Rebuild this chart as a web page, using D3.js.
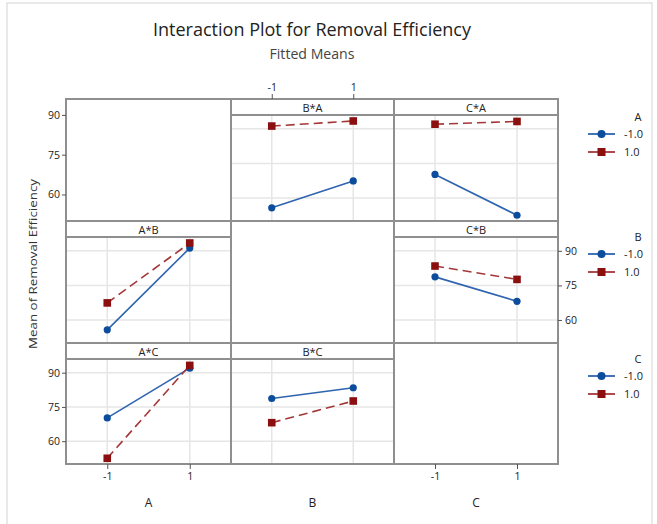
<!DOCTYPE html>
<html>
<head>
<meta charset="utf-8">
<script src="https://cdn.jsdelivr.net/npm/d3@7"></script>
<style>
body { margin: 0; background: #fff; }
text { font-family: "Open Sans", "DejaVu Sans", sans-serif; fill: #222; }
</style>
</head>
<body>
<svg width="657" height="524"></svg>
<script>
var factors = ["A", "B", "C"];
var levels = [-1, 1];
var tickLabels = ["-1", "1"];
var legendLabels = ["-1.0", "1.0"];
var yTicks = [60, 75, 90];

// fitted cell means, [level of first factor][level of second factor]
var meansAB = [[55.7, 67.4], [91.2, 93.4]];
var meansAC = [[70.2, 52.5], [92.0, 93.2]];
var meansBC = [[78.7, 68.1], [83.4, 77.6]];

var tables = { "AB": meansAB, "AC": meansAC, "BC": meansBC };

function cellMean(f1, i1, f2, i2) {
    if (f1 < f2) return tables[f1 + f2][i1][i2];
    return tables[f2 + f1][i2][i1];
}

var traceStyle = [
    { line: "#2f64ae", fill: "#0b4c9c", dash: null },
    { line: "#a33838", fill: "#8b0f0f", dash: "9,5" }
];

var svg = d3.select("svg");
var colEdges = [66, 231, 394, 558];
var rowEdges = [99, 221, 343, 464];
var stripH = 16;
var yDomain = [50, 96];
var borderCol = "#8f8f8f";

// outer frame
svg.append("rect")
    .attr("x", 7).attr("y", 3).attr("width", 645).attr("height", 530)
    .attr("fill", "none").attr("stroke", "#d4d4d4");

svg.append("text")
    .attr("x", 312).attr("y", 36)
    .attr("text-anchor", "middle")
    .attr("font-size", 19)
    .attr("textLength", 318).attr("lengthAdjust", "spacingAndGlyphs")
    .text("Interaction Plot for Removal Efficiency");

svg.append("text")
    .attr("x", 312).attr("y", 59)
    .attr("text-anchor", "middle")
    .attr("font-size", 14)
    .attr("textLength", 85).attr("lengthAdjust", "spacingAndGlyphs")
    .style("fill", "#444")
    .text("Fitted Means");

function xScale(c) {
    return d3.scaleLinear().domain([-2, 2]).range([colEdges[c], colEdges[c + 1]]);
}
function yScale(r) {
    return d3.scaleLinear().domain(yDomain).range([rowEdges[r + 1], rowEdges[r] + stripH]);
}

for (var r = 0; r < 3; r++) {
    for (var c = 0; c < 3; c++) {
        var x0 = colEdges[c], x1 = colEdges[c + 1], y0 = rowEdges[r], y1 = rowEdges[r + 1];
        var g = svg.append("g");
        if (r == c) {
            g.append("rect").attr("x", x0).attr("y", y0).attr("width", x1 - x0).attr("height", y1 - y0)
                .attr("fill", "none").attr("stroke", borderCol).attr("stroke-width", 2);
            continue;
        }
        var x = xScale(c), y = yScale(r);
        var xf = factors[c], tf = factors[r];

        g.selectAll(".hgrid").data(yTicks).enter().append("line")
            .attr("x1", x0).attr("x2", x1)
            .attr("y1", function(d) { return y(d); }).attr("y2", function(d) { return y(d); })
            .attr("stroke", "#e6e6e6").attr("stroke-width", 1.5);
        g.selectAll(".vgrid").data(levels).enter().append("line")
            .attr("x1", function(d) { return x(d); }).attr("x2", function(d) { return x(d); })
            .attr("y1", y0 + stripH).attr("y2", y1)
            .attr("stroke", "#e6e6e6").attr("stroke-width", 1.5);

        levels.forEach(function(tl, ti) {
            var pts = levels.map(function(xl, xi) {
                return { x: xl, y: cellMean(xf, xi, tf, ti) };
            });
            var st = traceStyle[ti];
            var line = d3.line().x(function(d) { return x(d.x); }).y(function(d) { return y(d.y); });
            g.append("path").datum(pts).attr("d", line)
                .attr("fill", "none").attr("stroke", st.line).attr("stroke-width", 1.6)
                .attr("stroke-dasharray", st.dash);
            if (ti == 0) {
                g.selectAll(".pt" + ti).data(pts).enter().append("circle")
                    .attr("cx", function(d) { return x(d.x); }).attr("cy", function(d) { return y(d.y); })
                    .attr("r", 3.6).attr("fill", st.fill);
            } else {
                g.selectAll(".pt" + ti).data(pts).enter().append("rect")
                    .attr("x", function(d) { return x(d.x) - 3.8; }).attr("y", function(d) { return y(d.y) - 3.8; })
                    .attr("width", 7.6).attr("height", 7.6).attr("fill", st.fill);
            }
        });

        // strip
        g.append("rect").attr("x", x0).attr("y", y0).attr("width", x1 - x0).attr("height", stripH)
            .attr("fill", "none").attr("stroke", borderCol).attr("stroke-width", 2);
        g.append("text").attr("x", (x0 + x1) / 2).attr("y", y0 + stripH - 3.5)
            .attr("text-anchor", "middle").attr("font-size", 11)
            .text(xf + "*" + tf);
        g.append("rect").attr("x", x0).attr("y", y0).attr("width", x1 - x0).attr("height", y1 - y0)
            .attr("fill", "none").attr("stroke", borderCol).attr("stroke-width", 2);
    }
}

function styleAxis(sel) {
    sel.select(".domain").remove();
    sel.selectAll(".tick line").attr("stroke", "#555");
    sel.selectAll(".tick text").attr("font-size", 10.5).style("font-family", "\"Open Sans\", sans-serif").attr("fill", "#222");
}

// left axes: top-left empty panel uses its whole height, bottom row uses the data area
var yTopLeft = d3.scaleLinear().domain(yDomain).range([rowEdges[1], rowEdges[0]]);
svg.append("g").attr("transform", "translate(" + colEdges[0] + ",0)")
    .call(d3.axisLeft(yTopLeft).tickValues(yTicks).tickSize(4).tickPadding(2)).call(styleAxis);
svg.append("g").attr("transform", "translate(" + colEdges[0] + ",0)")
    .call(d3.axisLeft(yScale(2)).tickValues(yTicks).tickSize(4).tickPadding(2)).call(styleAxis);
svg.append("g").attr("transform", "translate(" + colEdges[3] + ",0)")
    .call(d3.axisRight(yScale(1)).tickValues(yTicks).tickSize(4).tickPadding(3)).call(styleAxis);

function xTickFormat(d) { return tickLabels[levels.indexOf(d)]; }
svg.append("g").attr("transform", "translate(0," + rowEdges[0] + ")")
    .call(d3.axisTop(xScale(1)).tickValues(levels).tickFormat(xTickFormat).tickSize(5).tickPadding(3)).call(styleAxis);
[0, 2].forEach(function(c) {
    svg.append("g").attr("transform", "translate(0," + rowEdges[3] + ")")
        .call(d3.axisBottom(xScale(c)).tickValues(levels).tickFormat(xTickFormat).tickSize(5).tickPadding(4)).call(styleAxis);
});

factors.forEach(function(f, c) {
    svg.append("text").attr("x", (colEdges[c] + colEdges[c + 1]) / 2).attr("y", 507)
        .attr("text-anchor", "middle").attr("font-size", 12).text(f);
});

svg.append("text")
    .attr("transform", "translate(37,264) rotate(-90)")
    .attr("text-anchor", "middle").attr("font-size", 11.5)
    .attr("textLength", 170).attr("lengthAdjust", "spacingAndGlyphs")
    .style("fill", "#333")
    .text("Mean of Removal Efficiency");

// legends
factors.forEach(function(f, i) {
    var ty = rowEdges[i] + (i == 0 ? 18 : 16);
    var lg = svg.append("g");
    lg.append("text").attr("x", 638).attr("y", ty + 4).attr("text-anchor", "middle").attr("font-size", 11).text(f);
    levels.forEach(function(l, li) {
        var ly = ty + 17 + li * 18;
        var st = traceStyle[li];
        lg.append("line").attr("x1", 588).attr("x2", 615).attr("y1", ly).attr("y2", ly)
            .attr("stroke", st.line).attr("stroke-width", 1.8);
        if (li == 0) {
            lg.append("circle").attr("cx", 601.5).attr("cy", ly).attr("r", 4).attr("fill", st.fill);
        } else {
            lg.append("rect").attr("x", 597.5).attr("y", ly - 4).attr("width", 8).attr("height", 8).attr("fill", st.fill);
        }
        lg.append("text").attr("x", 624).attr("y", ly + 4).attr("font-size", 11).text(legendLabels[li]);
    });
});
</script>
</body>
</html>
